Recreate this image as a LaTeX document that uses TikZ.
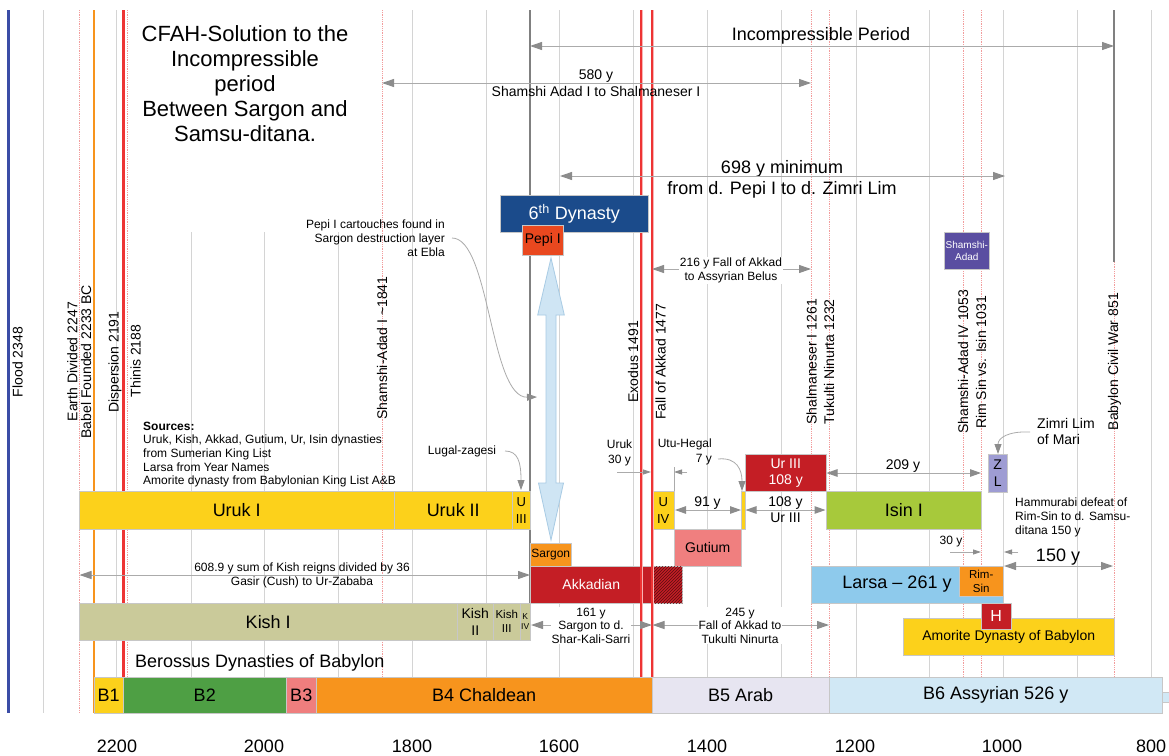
\documentclass[tikz,border=0pt]{standalone}
\usepackage{fontspec}
\setmainfont{Liberation Sans}
\usetikzlibrary{arrows.meta,patterns}
\definecolor{yel}{HTML}{FCD11B}
\definecolor{akred}{HTML}{C41E25}
\definecolor{orng}{HTML}{F7941D}
\definecolor{pepic}{HTML}{E9481F}
\definecolor{dync}{HTML}{1B4B8B}
\definecolor{shadc}{HTML}{5A4EA1}
\definecolor{zlc}{HTML}{9E9CD3}
\definecolor{isinc}{HTML}{A7C93B}
\definecolor{gutc}{HTML}{F07F7F}
\definecolor{larsc}{HTML}{8ECAEC}
\definecolor{kishc}{HTML}{CACA9A}
\definecolor{btwo}{HTML}{4E9F44}
\definecolor{bthree}{HTML}{EF7E7E}
\definecolor{bfive}{HTML}{E7E5F1}
\definecolor{bsix}{HTML}{D1E8F5}
\definecolor{bigf}{HTML}{CFE5F4}
\definecolor{bigd}{HTML}{A8CBE4}
\definecolor{gridc}{HTML}{D4D4D4}
\definecolor{rdot}{HTML}{F29C9C}
\definecolor{dkg}{HTML}{808080}
\definecolor{floodc}{HTML}{3B4DA6}
\definecolor{redl}{HTML}{EE3434}
\definecolor{redhalo}{HTML}{F8B4B4}
\definecolor{arrc}{HTML}{ABABAB}
\definecolor{arrh}{HTML}{8C8C8C}
\newcommand\fsz[2]{\fontsize{#1}{#2}\selectfont}
\begin{document}
\begin{tikzpicture}[x=1pt,y=-1pt,
  gridline/.style={draw=gridc,line width=0.9pt},
  rdotline/.style={draw=rdot,line width=0.8pt,densely dotted},
  dkline/.style={draw=dkg,line width=1.4pt},
  bx/.style={draw=black!22,line width=0.5pt,inner sep=0pt,anchor=north west,align=center},
  lbl/.style={inner sep=0pt,align=center},
  vl/.style={inner sep=0pt,rotate=90,font=\fsz{14}{16}},
  wl/.style={fill=white,inner sep=1pt,align=center},
  dar/.style={draw=arrc,line width=1pt,{Triangle[length=12pt,width=8pt,color=arrh]}-{Triangle[length=12pt,width=8pt,color=arrh]}},
  mar/.style={draw=arrc,line width=1pt,{Triangle[length=11pt,width=7.5pt,color=arrh]}-{Triangle[length=11pt,width=7.5pt,color=arrh]}},
  sar/.style={draw=arrc,line width=0.8pt,-{Triangle[length=8pt,width=5pt,color=arrh]}},
  car/.style={draw=arrc,line width=0.8pt,-{Triangle[length=10pt,width=7pt,color=arrh]}},
]
\fill[white] (0,0) rectangle (1169,755);
\useasboundingbox (0,0) rectangle (1169,755);

% grid
\foreach \x in {43,116,412,486,559,633,707,781,856,929,1003,1077,1151}
  \draw[gridline] (\x,10) -- (\x,713);
\foreach \x in {191,264,338}
  \draw[gridline] (\x,232) -- (\x,713);
\foreach \x in {79,127,382,811,829,963,981,1114}
  \draw[rdotline] (\x,10) -- (\x,713);
\draw[dkline] (530,10) -- (530,640);
\draw[dkline] (1114,10) -- (1114,262);
\draw[floodc,line width=3pt] (8.5,10) -- (8.5,713);
\draw[orng,line width=2.5pt] (94,10) -- (94,713);
\draw[redl,line width=3pt] (123.3,10) -- (123.3,713);

% title
\node[lbl,font=\fsz{22}{25}] (title) at (245,83.5) {CFAH-Solution to the\\Incompressible\\period\\Between Sargon and\\Samsu-ditana.};

% vertical labels
\node[vl] (lflood) at (17.5,362) {Flood 2348};
\node[vl] (learth) at (72.3,361.7) {Earth Divided 2247};
\node[vl] (lbabel) at (86,361.7) {Babel Founded 2233 BC};
\node[vl] (ldisp) at (115,362) {Dispersion 2191};
\node[vl] (lthin) at (135.7,361) {Thinis 2188};
\node[vl] (lsha) at (382,348) {Shamshi-Adad I \textasciitilde1841};
\node[vl] (lexo) at (633,361.7) {Exodus 1491};
\node[vl] (lfall) at (660.5,361.7) {Fall of Akkad 1477};
\node[vl] (lshal) at (811.5,361.7) {Shalmaneser I 1261};
\node[vl] (ltuk) at (829,361.7) {Tukulti Ninurta 1232};
\node[vl] (lsha4) at (963,361.7) {Shamshi-Adad IV 1053};
\node[vl] (lrim) at (981,362.5) {Rim Sin vs. Isin 1031};
\node[vl] (lciv) at (1114.5,361.7) {Babylon Civil War 851};

% sources
\node[inner sep=0pt,anchor=north west,align=left,font=\fsz{12}{13.7}] (src) at (143,421.5)
 {\textbf{Sources:}\\Uruk, Kish, Akkad, Gutium, Ur, Isin dynasties\\from Sumerian King List\\Larsa from Year Names\\Amorite dynasty from Babylonian King List A\&B};

% boxes
\node[bx,fill=yel,minimum width=315,minimum height=38,font=\fsz{18}{20}] (uruka) at (79,491) {Uruk I};
\node[bx,fill=yel,minimum width=118,minimum height=38,font=\fsz{18}{20}] (urukb) at (394,491) {Uruk II};
\node[bx,fill=yel,minimum width=18,minimum height=38,font=\fsz{13}{17}] (urukc) at (512,491) {U\\III};
\node[bx,fill=yel,minimum width=22,minimum height=38,font=\fsz{13}{17}] (urukd) at (652,491) {U\\IV};
\node[bx,fill=yel,minimum width=4,minimum height=38] (utub) at (741,491) {};
\node[bx,fill=isinc,minimum width=155,minimum height=38,font=\fsz{18}{20}] (isin) at (826,491) {Isin I};
\node[bx,fill=akred,text=white,minimum width=81,minimum height=37,font=\fsz{14}{16}] (urthree) at (745,454) {Ur III\\108 y};
\node[bx,fill=gutc,minimum width=67,minimum height=37,font=\fsz{14}{16}] (gut) at (674,529) {Gutium};
\node[bx,fill=orng,minimum width=41,minimum height=23,font=\fsz{12}{14}] (sarg) at (530,543) {Sargon};
\node[bx,fill=akred,text=white,minimum width=122,minimum height=37,font=\fsz{14}{16}] (akk) at (530,566) {Akkadian};
\node[bx,fill=akred,postaction={pattern=north east lines,pattern color=black!55!akred},minimum width=30,minimum height=37] (hatch) at (652,566) {};
\node[bx,fill=kishc,minimum width=378,minimum height=37,font=\fsz{18}{20}] (kisha) at (79,603) {Kish I};
\node[bx,fill=kishc,minimum width=36,minimum height=37,font=\fsz{14}{16.5}] (kishb) at (457,603) {Kish\\II};
\node[bx,fill=kishc,minimum width=27,minimum height=37,font=\fsz{11.5}{14}] (kishc) at (493,603) {Kish\\III};
\node[bx,fill=kishc,minimum width=10,minimum height=37,font=\fsz{8.5}{9.5}] (kishd) at (520,603) {K\\IV};
\node[bx,fill=larsc,minimum width=192,minimum height=37] (lars) at (811,566) {};
\node[lbl,font=\fsz{18}{20}] (larstxt) at (897,584.5) {Larsa -- 261 y};
\node[bx,fill=orng,minimum width=44,minimum height=30,font=\fsz{11.5}{13.5}] (rims) at (959,566) {Rim-\\Sin};
\node[bx,fill=yel,minimum width=211,minimum height=37,font=\fsz{14}{16}] (amor) at (903,618) {Amorite Dynasty of Babylon};
\node[bx,fill=akred,text=white,minimum width=30,minimum height=26,font=\fsz{16}{18}] (hbox) at (981,603) {H};
\node[bx,fill=zlc,minimum width=19,minimum height=38,font=\fsz{14}{17}] (zl) at (988,454) {Z\\L};
\node[bx,fill=shadc,text=white,minimum width=45,minimum height=37,font=\fsz{10}{12}] (shad) at (944,232) {Shamshi-\\Adad};

% Berossus bars
\node[bx,fill=yel,minimum width=29,minimum height=36,font=\fsz{18}{20}] (bone) at (94,677) {B1};
\node[bx,fill=btwo,minimum width=163,minimum height=36,font=\fsz{18}{20}] (btwobox) at (123,677) {B2};
\node[bx,fill=bthree,minimum width=30,minimum height=36,font=\fsz{18}{20}] (bthreebox) at (286,677) {B3};
\node[bx,fill=orng,minimum width=336,minimum height=36,font=\fsz{18}{20}] (bfour) at (316,677) {B4 Chaldean};
\node[bx,fill=bfive,minimum width=177,minimum height=36,font=\fsz{18}{20}] (bfivebox) at (652,677) {B5 Arab};
\node[bx,fill=bsix,minimum width=333,minimum height=36,font=\fsz{18}{20}] (bsixbox) at (829,677) {B6 Assyrian 526 y};
\node[bx,fill=bsix,minimum width=7,minimum height=10] (bstub) at (1162,692) {};

% red event lines
\draw[redhalo,line width=3pt] (641,10) -- (641,677);
\draw[redl,line width=1.2pt] (641,10) -- (641,677);
\draw[redhalo,line width=3pt] (652,10) -- (652,677);
\draw[redl,line width=1.2pt] (652,10) -- (652,677);

% 6th dynasty
\node[bx,fill=dync,text=white,minimum width=148,minimum height=37,font=\fsz{18}{20}] (dyn) at (500,195) {6\textsuperscript{th} Dynasty};
\node[bx,fill=pepic,minimum width=41,minimum height=30,font=\fsz{14}{16}] (pepi) at (522,225) {Pepi I};

% big double arrow
\draw[draw=bigd,fill=bigf,line width=0.8pt] (551,258) -- (564.3,315) -- (556,315) -- (556,483) -- (563.5,483) -- (551,540)
  -- (538.5,483) -- (546,483) -- (546,315) -- (537.7,315) -- cycle;

% labels and arrows
\node[lbl,font=\fsz{18}{20}] (inctxt) at (821,36) {Incompressible Period};
\coordinate (incl) at (530,46); \coordinate (incr) at (1114,46);
\draw[dar] (incl) -- (incr);

\node[lbl,font=\fsz{14}{16.3}] (t580) at (596,83.2) {580 y\\Shamshi Adad I to Shalmaneser I};
\coordinate (sal) at (382,83); \coordinate (sar) at (811,83);
\draw[dar] (sal) -- (sar);

\node[lbl,font=\fsz{18}{21}] (t698) at (782,179) {698 y minimum\\from d. Pepi I to d. Zimri Lim};
\coordinate (pzl) at (560,176); \coordinate (pzr) at (1005,176);
\draw[dar] (pzl) -- (pzr);

\coordinate (fal) at (652,269); \coordinate (far) at (811,269);
\draw[dar] (fal) -- (far);
\node[wl,font=\fsz{12}{14}] (t216) at (731,270.5) {216 y Fall of Akkad\\to Assyrian Belus};

\node[inner sep=0pt,anchor=east,align=right,font=\fsz{12}{13.8}] (tpepi) at (445,238.5) {Pepi I cartouches found in\\Sargon destruction layer\\at Ebla};
\coordinate (pepis) at (452,238); \coordinate (pepie) at (537,397);
\draw[car] (pepis) .. controls (490,238) and (490,398) .. (pepie);

\node[lbl,font=\fsz{12}{14}] (tlugal) at (462,451) {Lugal-zagesi};
\coordinate (lugs) at (505,451); \coordinate (luge) at (521,490);
\draw[car] (lugs) .. controls (518,451) and (521,462) .. (luge);

\node[lbl,font=\fsz{12}{15}] (turuk) at (619.5,453) {Uruk\\30 y};
\coordinate (uka) at (617,472); \coordinate (ukb) at (651,472);
\coordinate (ukc) at (687,472); \coordinate (ukd) at (674,472);
\draw[sar] (uka) -- (ukb);
\draw[sar] (ukc) -- (ukd);
\coordinate (tka) at (674,467); \coordinate (tkb) at (674,491);
\draw[draw=arrc,line width=0.6pt] (tka) -- (tkb);

\node[inner sep=0pt,anchor=east,align=right,font=\fsz{12}{15}] (tutu) at (712,451.5) {Utu-Hegal\\7 y};
\coordinate (utus) at (718,459); \coordinate (utue) at (742,491);
\draw[car] (utus) .. controls (737,457) and (742,470) .. (utue);

\coordinate (nia) at (675,510); \coordinate (nib) at (741,510);
\draw[mar] (nia) -- (nib);
\node[lbl,font=\fsz{14}{16}] (t91) at (707.5,503) {91 y};
\coordinate (oea) at (745.5,510); \coordinate (oeb) at (825.5,510);
\draw[mar] (oea) -- (oeb);
\node[lbl,font=\fsz{14}{16}] (t108) at (785.5,510) {108 y\\Ur III};

\coordinate (twa) at (826.5,473); \coordinate (twb) at (981,473);
\draw[mar] (twa) -- (twb);
\node[lbl,font=\fsz{14}{16}] (t209) at (903,466) {209 y};

\node[lbl,font=\fsz{14}{16.5}] (tzimri) at (1037,431.3) [anchor=west,align=left] {Zimri Lim\\of Mari};
\coordinate (zms) at (1030,432); \coordinate (zme) at (998,454);
\draw[car] (zms) .. controls (1008,431) and (998,438) .. (zme);

\node[inner sep=0pt,anchor=west,align=left,font=\fsz{12}{14}] (thamm) at (1015,517.5) {Hammurabi defeat of\\Rim-Sin to d. Samsu-\\ditana 150 y};

\node[lbl,font=\fsz{12}{14}] (t30) at (951,542) {30 y};
\coordinate (tha) at (950,552); \coordinate (thb) at (981,552);
\coordinate (thc) at (1018,552); \coordinate (thd) at (1004,552);
\draw[sar] (tha) -- (thb);
\draw[sar] (thc) -- (thd);

\coordinate (ofa) at (1004,566); \coordinate (ofb) at (1113,566);
\draw[dar] (ofa) -- (ofb);
\node[lbl,font=\fsz{18}{20}] (t150) at (1058,557.5) {150 y};

\coordinate (ksa) at (79.5,575); \coordinate (ksb) at (530,575);
\draw[dar] (ksa) -- (ksb);
\node[lbl,font=\fsz{12}{14}] (t608) at (302,575) {608.9 y sum of Kish reigns divided by 36\\Gasir (Cush) to Ur-Zababa};

\coordinate (osa) at (531,625); \coordinate (osb) at (652,625);
\draw[dar] (osa) -- (osb);
\node[wl,font=\fsz{12}{13.5}] (t161) at (591,625.5) {161 y\\Sargon to d.\\Shar-Kali-Sarri};
\coordinate (tfa) at (652.5,625); \coordinate (tfb) at (829,625);
\draw[dar] (tfa) -- (tfb);
\node[wl,font=\fsz{12}{13.5}] (t245) at (740,625.5) {245 y\\Fall of Akkad to\\Tukulti Ninurta};

\node[inner sep=0pt,anchor=west,font=\fsz{18}{20}] (tber) at (135,663) {Berossus Dynasties of Babylon};

% axis
\node[lbl,font=\fsz{18}{20}] (ax1) at (117,746) {2200};
\node[lbl,font=\fsz{18}{20}] (ax2) at (264,746) {2000};
\node[lbl,font=\fsz{18}{20}] (ax3) at (412,746) {1800};
\node[lbl,font=\fsz{18}{20}] (ax4) at (559,746) {1600};
\node[lbl,font=\fsz{18}{20}] (ax5) at (707,746) {1400};
\node[lbl,font=\fsz{18}{20}] (ax6) at (855,746) {1200};
\node[lbl,font=\fsz{18}{20}] (ax7) at (1002,746) {1000};
\node[lbl,font=\fsz{18}{20}] (ax8) at (1151,746) {800};
\end{tikzpicture}
\end{document}
